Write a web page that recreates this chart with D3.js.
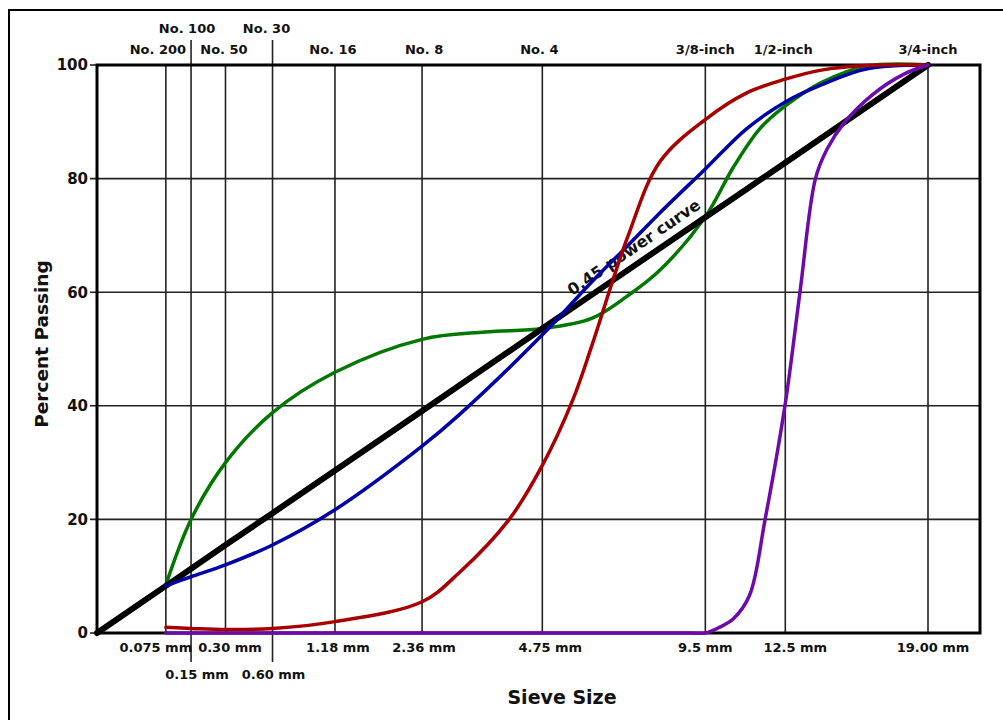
<!DOCTYPE html>
<html><head><meta charset="utf-8">
<script src="https://cdn.jsdelivr.net/npm/d3@7"></script>
<style>
body{margin:0;background:#fff}
text{font-family:"DejaVu Sans",Verdana,sans-serif;font-weight:bold;fill:#111}
</style>
</head><body>
<svg id="c" width="1003" height="720"></svg>
<script>
// ---- data ----
const sieveSizes = [0.075, 0.15, 0.3, 0.6, 1.18, 2.36, 4.75, 9.5, 12.5, 19];
const sieveNames = ["No. 200","No. 100","No. 50","No. 30","No. 16","No. 8","No. 4","3/8-inch","1/2-inch","3/4-inch"];
const sieveMm = ["0.075 mm","0.15 mm","0.30 mm","0.60 mm","1.18 mm","2.36 mm","4.75 mm","9.5 mm","12.5 mm","19.00 mm"];
const staggered = [false, true, false, true, false, false, false, false, false, false];
const yTicks = [0, 20, 40, 60, 80, 100];

const maxDensitySizes  = [0, 0.075, 0.15, 0.3, 0.6, 1.18, 2.36, 4.75, 9.5, 12.5, 19];
const maxDensityValues = [0, 8.3, 11.3, 15.5, 21.1, 28.6, 39.1, 53.6, 73.2, 82.8, 100];

const greenSizes  = [0.075, 0.15, 0.3, 0.6, 1.18, 2.36, 3.5, 4.75, 6, 7, 8, 9.5, 10.5, 11.5, 12.5, 14, 16, 19];
const greenValues = [8.5, 20.0, 30.0, 38.8, 45.9, 51.7, 53.0, 53.6, 55.4, 59.3, 63.9, 73.3, 82, 88.8, 92.8, 96.9, 99.8, 100];

const blueSizes  = [0.075, 0.15, 0.3, 0.6, 1.18, 2.36, 3, 4.75, 6, 7, 8, 9.5, 11, 12.5, 14, 16, 19];
const blueValues = [8.3, 9.9, 12.0, 15.5, 21.7, 32.9, 38.4, 52.5, 61.8, 68.1, 74, 81.7, 88.8, 93.5, 96.5, 99.3, 100];

const redSizes  = [0.075, 0.15, 0.3, 0.6, 1.18, 2.36, 3, 4, 4.75, 5.5, 6, 7, 8, 9.5, 11, 12.5, 14, 16, 19];
const redValues = [1.0, 0.8, 0.6, 0.8, 2.0, 5.5, 10.6, 20, 29.5, 41, 50.5, 69.5, 83, 90.4, 95.1, 97.5, 99.1, 99.9, 100];

const purpleSizes  = [0.075, 9, 9.5, 10, 10.5, 11.1, 11.7, 12.5, 13.1, 13.75, 14.25, 15, 16.3, 17.8, 19];
const purpleValues = [0, 0, 0, 1.0, 2.5, 6.6, 20, 40.4, 60, 80, 85.2, 89.8, 94.8, 98.4, 100];

// ---- layout ----
const L = 97, R = 980, T = 65, B = 633;
const svg = d3.select("#c");
const x = d3.scalePow().exponent(0.45).domain([0, 19]).range([L, 928]);
const y = d3.scaleLinear().domain([0, 100]).range([B, T]);

svg.append("rect").attr("width",1003).attr("height",720).attr("fill","#fff");
// outer frame
svg.append("rect").attr("x",9).attr("y",10).attr("width",1100).attr("height",800)
  .attr("fill","none").attr("stroke","#000").attr("stroke-width",2);

// horizontal grid + ticks
svg.append("g").selectAll("line").data(yTicks).join("line")
  .attr("x1", 90).attr("x2", d => (d === 0 || d === 100) ? L : R)
  .attr("y1", d => y(d)).attr("y2", d => y(d))
  .attr("stroke","#222").attr("stroke-width",1.6);
svg.append("g").selectAll("text").data(yTicks).join("text")
  .attr("x", 88).attr("y", d => y(d)).attr("dy","0.36em")
  .attr("text-anchor","end").style("font-size","15px").text(d => d);

// vertical sieve lines
svg.append("g").selectAll("line").data(sieveSizes).join("line")
  .attr("x1", d => x(d)).attr("x2", d => x(d))
  .attr("y1", (d,i) => staggered[i] ? 40 : T)
  .attr("y2", (d,i) => staggered[i] ? 662 : B)
  .attr("stroke","#222").attr("stroke-width",1.6);

// label nudges (px) to mimic the reference placement
const topNudge = [-8, -4, -1.5, -6, -2, 2, -3, 0, -2, 0];
const botNudge = [-10, 6, 4.5, 1, 3, 2, 8, 0, 10, 5];
svg.append("g").selectAll("text").data(sieveNames).join("text")
  .attr("x", (d,i) => x(sieveSizes[i]) + topNudge[i])
  .attr("y", (d,i) => staggered[i] ? 33 : 54)
  .attr("text-anchor","middle").style("font-size","13px").text(d => d);
svg.append("g").selectAll("text").data(sieveMm).join("text")
  .attr("x", (d,i) => x(sieveSizes[i]) + botNudge[i])
  .attr("y", (d,i) => staggered[i] ? 679 : 652)
  .attr("text-anchor","middle").style("font-size","13px").text(d => d);

// plot frame
svg.append("rect").attr("x",L).attr("y",T).attr("width",R-L).attr("height",B-T)
  .attr("fill","none").attr("stroke","#000").attr("stroke-width",3);

// axis titles
svg.append("text").attr("transform","translate(48,344) rotate(-90)")
  .attr("text-anchor","middle").style("font-size","18.5px").text("Percent Passing");
svg.append("text").attr("x",562).attr("y",704)
  .attr("text-anchor","middle").style("font-size","19px").text("Sieve Size");

const line = d3.line().x(d => x(d[0])).y(d => y(d[1])).curve(d3.curveCatmullRom.alpha(0.5));
const zip = (a, b) => a.map((v, i) => [v, b[i]]);
function drawSeries(sizes, vals, color, w) {
  svg.append("path").datum(zip(sizes, vals)).attr("d", line)
    .attr("fill","none").attr("stroke",color).attr("stroke-width",w)
    .attr("stroke-linejoin","round").attr("stroke-linecap","round");
}

drawSeries(greenSizes, greenValues, "#007800", 3.5);
drawSeries(maxDensitySizes, maxDensityValues, "#000", 6);

// label along the 0.45 power line
const p0 = [x(0), y(0)], p1 = [x(19), y(100)];
const ang = Math.atan2(p1[1]-p0[1], p1[0]-p0[0]);
const sx = 578, t = (sx - p0[0]) / (p1[0]-p0[0]);
const sy = p0[1] + t*(p1[1]-p0[1]);
const off = 10;
const nx = Math.sin(ang) * off, ny = -Math.cos(ang) * off;
svg.append("text")
  .attr("transform", `translate(${sx+nx},${sy+ny}) rotate(${ang*180/Math.PI})`)
  .style("font-size","16px").text("0.45 power curve");

drawSeries(blueSizes, blueValues, "#0000a8", 3.5);
drawSeries(redSizes, redValues, "#a80000", 3.5);
drawSeries(purpleSizes, purpleValues, "#6c0aab", 3.5);
</script>
</body></html>
